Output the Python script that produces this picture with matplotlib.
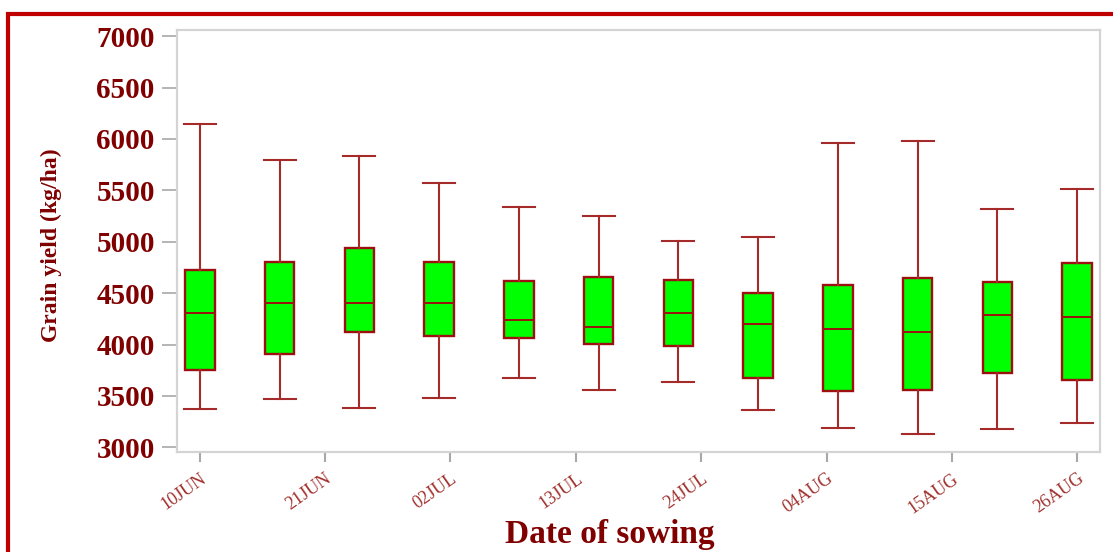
import datetime as dt
import matplotlib
matplotlib.use("Agg")
import matplotlib.pyplot as plt
import matplotlib.dates as mdates
import matplotlib.transforms as mtransforms
from matplotlib.patches import Rectangle

# sowing dates (weekly) and yield summaries, kg/ha
sowing = ["2020-06-10", "2020-06-17", "2020-06-24", "2020-07-01", "2020-07-08", "2020-07-15",
          "2020-07-22", "2020-07-29", "2020-08-05", "2020-08-12", "2020-08-19", "2020-08-26"]
whis_hi = [6150, 5800, 5835, 5570, 5340, 5255, 5010, 5045, 5960, 5980, 5320, 5510]
q3 = [4725, 4800, 4935, 4800, 4615, 4660, 4625, 4505, 4575, 4645, 4605, 4790]
median = [4310, 4400, 4400, 4400, 4240, 4175, 4310, 4200, 4155, 4125, 4285, 4265]
q1 = [3750, 3910, 4125, 4080, 4060, 4010, 3990, 3670, 3550, 3560, 3725, 3660]
whis_lo = [3375, 3475, 3385, 3485, 3670, 3560, 3635, 3360, 3185, 3130, 3175, 3240]

tick_dates = ["2020-06-10", "2020-06-21", "2020-07-02", "2020-07-13", "2020-07-24",
              "2020-08-04", "2020-08-15", "2020-08-26"]
tick_labels = ["10JUN", "21JUN", "02JUL", "13JUL", "24JUL", "04AUG", "15AUG", "26AUG"]
y_ticks = [3000, 3500, 4000, 4500, 5000, 5500, 6000, 6500, 7000]

dark_red = "#800000"
edge_red = "#9e1010"
serif = ["Liberation Serif", "DejaVu Serif"]

pos = [mdates.date2num(dt.date.fromisoformat(d)) for d in sowing]
stats = []
for lo, a, m, b, hi in zip(whis_lo, q1, median, q3, whis_hi):
    stats.append({"whislo": lo, "q1": a, "med": m, "q3": b, "whishi": hi, "fliers": []})

fig = plt.figure(figsize=(11.13, 5.52), dpi=100)
ax = fig.add_axes([177 / 1113, 1 - 452 / 552, 923 / 1113, 422 / 552])

ax.bxp(stats, positions=pos, widths=2.6, showfliers=False, patch_artist=True,
       boxprops=dict(facecolor="#00ff00", edgecolor=edge_red, linewidth=1.7),
       medianprops=dict(color=edge_red, linewidth=1.4),
       whiskerprops=dict(color="#a52a2a", linewidth=1.5),
       capprops=dict(color="#a52a2a", linewidth=1.5),
       capwidths=2.8)

x0 = mdates.date2num(dt.date(2020, 6, 10))
x1 = mdates.date2num(dt.date(2020, 8, 26))
ax.set_xlim(x0 - 2.0, x1 + 2.0)
ax.set_ylim(2955, 7060)

ax.set_xticks([mdates.date2num(dt.date.fromisoformat(d)) for d in tick_dates])
ax.set_xticklabels(tick_labels, rotation=35, ha="right", rotation_mode="anchor",
                   fontsize=13, color="#a0302c", family=serif)
# pull the slanted date labels back so they end under their tick
shift = mtransforms.ScaledTranslation(-6 / 100, 0, fig.dpi_scale_trans)
for lab in ax.get_xticklabels():
    lab.set_transform(lab.get_transform() + shift)

ax.set_yticks(y_ticks)
ax.set_yticklabels([str(v) for v in y_ticks], fontsize=21, fontweight="bold",
                   color=dark_red, family=serif)

ax.tick_params(axis="y", length=11, width=1.2, color="#a8a8a8", pad=5)
ax.tick_params(axis="x", length=7, width=1.5, color="#a8a8a8", pad=6)
for s in ax.spines.values():
    s.set_color("#d4d4d4")
    s.set_linewidth(1.6)

ax.set_xlabel("Date of sowing", fontsize=24, fontweight="bold", color=dark_red,
              family=serif)
ax.xaxis.set_label_coords(0.469, -0.158)
ax.set_ylabel("Grain yield (kg/ha)", fontsize=17, fontweight="bold", color=dark_red,
              family=serif)
ax.yaxis.set_label_coords(-0.125, 0.49)

# red frame round the figure, running off the right and bottom edges
fig.patches.append(Rectangle((8 / 1113, -0.1), 1.2, 1 - 14 / 552 + 0.1,
                             transform=fig.transFigure, fill=False,
                             edgecolor="#c00000", linewidth=3.0))

fig.savefig("out.png", dpi=100)
